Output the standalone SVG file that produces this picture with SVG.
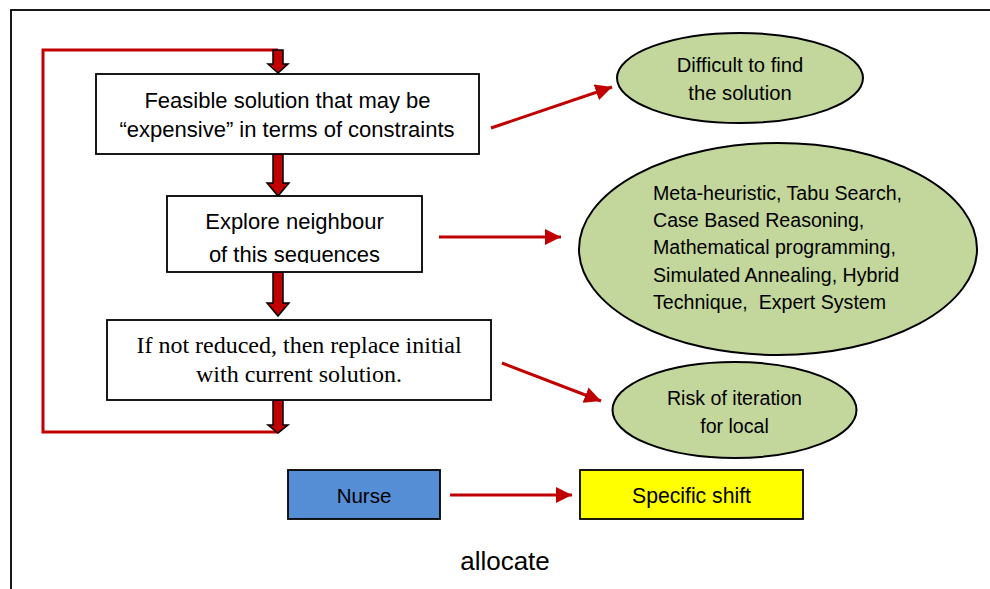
<svg xmlns="http://www.w3.org/2000/svg" width="990" height="589" viewBox="0 0 990 589">
  <style>
    .box { fill: #ffffff; stroke: #000000; stroke-width: 1.8; }
    .oval { fill: #c3d69b; stroke: #000000; stroke-width: 2; }
    .sans { font-family: "Liberation Sans", Arial, sans-serif; fill: #000000; }
    .serif { font-family: "Liberation Serif", "Times New Roman", serif; fill: #000000; }
    .thin { fill: none; stroke: #c00000; stroke-width: 3; }
    .loop { fill: none; stroke: #c00000; stroke-width: 3; }
    .block { fill: #c00000; stroke: #000000; stroke-width: 1.5; stroke-linejoin: miter; }
  </style>
  <defs>
    <marker id="head" viewBox="0 0 10 10" refX="10" refY="5" markerWidth="5.5" markerHeight="5.5" orient="auto" markerUnits="strokeWidth">
      <path d="M0,0 L10,5 L0,10 Z" fill="#c00000"/>
    </marker>
    <clipPath id="clip-explore">
      <rect x="167" y="196" width="255" height="67"/>
    </clipPath>
  </defs>

  <!-- outer frame -->
  <rect x="11" y="10" width="1000" height="600" fill="none" stroke="#000000" stroke-width="1.8"/>

  <g id="connectors">
    <!-- feedback loop -->
    <polyline class="loop" points="278,50 43,50 43,432 278,432"/>
    <!-- block arrows down the main column -->
    <polygon class="block" points="273,50 283,50 283,64 288,64 278,73 268,64 273,64"/>
    <polygon class="block" points="273,154 283,154 283,183 289,183 278,196 267,183 273,183"/>
    <polygon class="block" points="273,272 283,272 283,303 289,303 278,316 267,303 273,303"/>
    <polygon class="block" points="273,400 283,400 283,425 288,425 278,433 268,425 273,425"/>
    <!-- side arrows -->
    <line class="thin" x1="491" y1="128" x2="612" y2="87" marker-end="url(#head)"/>
    <line class="thin" x1="439" y1="237" x2="561" y2="237" marker-end="url(#head)"/>
    <line class="thin" x1="502" y1="363" x2="601" y2="401" marker-end="url(#head)"/>
    <line class="thin" x1="450" y1="495" x2="572" y2="495" marker-end="url(#head)"/>
  </g>

  <g id="feasible">
    <rect class="box" x="96" y="74" width="383" height="80"/>
    <text class="sans" font-size="22" text-anchor="middle" x="287.5" y="108">Feasible solution that may be</text>
    <text class="sans" font-size="22" text-anchor="middle" x="287" y="137">“expensive” in terms of constraints</text>
  </g>

  <g id="explore">
    <rect class="box" x="167" y="196" width="255" height="76"/>
    <g clip-path="url(#clip-explore)">
      <text class="sans" font-size="22" text-anchor="middle" x="294.5" y="229">Explore neighbour</text>
      <text class="sans" font-size="22" text-anchor="middle" x="294.5" y="262">of this sequences</text>
    </g>
  </g>

  <g id="replace">
    <rect class="box" x="107" y="320" width="384" height="80"/>
    <text class="serif" font-size="24" text-anchor="middle" x="299" y="353">If not reduced, then replace initial</text>
    <text class="serif" font-size="24" text-anchor="middle" x="299" y="382">with current solution.</text>
  </g>

  <g id="difficult">
    <ellipse class="oval" cx="740" cy="78" rx="123" ry="45"/>
    <text class="sans" font-size="20.2" text-anchor="middle" x="740" y="72">Difficult to find</text>
    <text class="sans" font-size="20.2" text-anchor="middle" x="740" y="100">the solution</text>
  </g>

  <g id="techniques">
    <ellipse class="oval" cx="778" cy="249" rx="199" ry="106"/>
    <text class="sans" font-size="19.6" xml:space="preserve"><tspan x="653" y="200">Meta-heuristic, Tabu Search,</tspan><tspan x="653" y="227">Case Based Reasoning,</tspan><tspan x="653" y="254">Mathematical programming,</tspan><tspan x="653" y="282">Simulated Annealing, Hybrid</tspan><tspan x="653" y="309">Technique,  Expert System</tspan></text>
  </g>

  <g id="risk">
    <ellipse class="oval" cx="734.5" cy="410" rx="122" ry="48"/>
    <text class="sans" font-size="19.6" text-anchor="middle" x="734.5" y="405">Risk of iteration</text>
    <text class="sans" font-size="19.6" text-anchor="middle" x="734.5" y="433">for local</text>
  </g>

  <g id="nurse">
    <rect x="288" y="470" width="152" height="49" fill="#558ed5" stroke="#000000" stroke-width="1.8"/>
    <text class="sans" font-size="20.5" text-anchor="middle" x="364" y="503">Nurse</text>
  </g>

  <g id="shift">
    <rect x="580" y="470" width="223" height="49" fill="#ffff00" stroke="#000000" stroke-width="1.8"/>
    <text class="sans" font-size="21.2" text-anchor="middle" x="691.5" y="503">Specific shift</text>
  </g>

  <text id="allocate" class="sans" font-size="26" text-anchor="middle" x="505" y="570">allocate</text>
</svg>
